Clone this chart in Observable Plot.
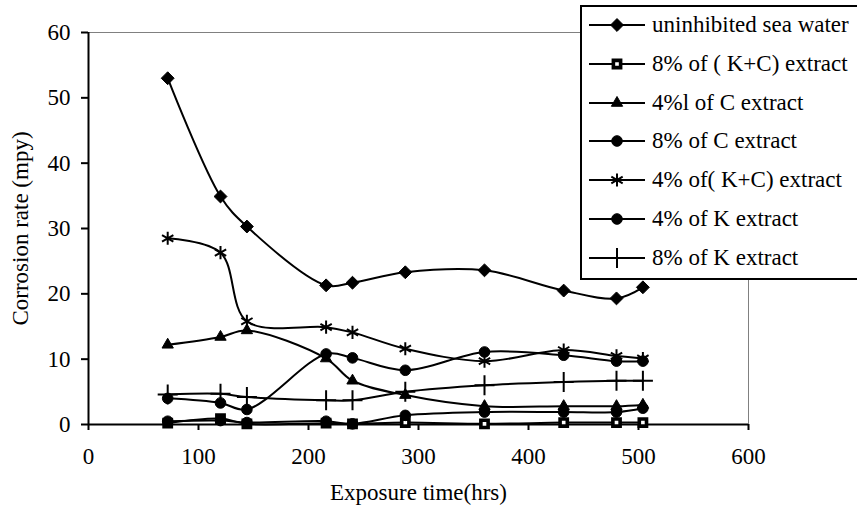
<!DOCTYPE html>
<html>
<head>
<meta charset="utf-8">
<script src="https://cdn.jsdelivr.net/npm/d3@7"></script>
<script src="https://cdn.jsdelivr.net/npm/@observablehq/plot@0.6"></script>
<style>
  html, body { margin: 0; padding: 0; background: #fff; overflow: hidden; }
  #wrap { position: relative; width: 857px; height: 517px; overflow: hidden; }
  #legend { position: absolute; left: 580px; top: 5px; width: 300px; height: 271px;
            border: 2px solid #000; background: #fff; font-family: "Liberation Serif", "Times New Roman", serif; }
  .row { position: absolute; left: 0; height: 30px; display: flex; align-items: center; }
  .row span { font-size: 23px; color: #000; white-space: nowrap; margin-left: 0px;
              font-family: "Liberation Serif", "Times New Roman", serif; }
</style>
</head>
<body>
<div id="wrap"><div id="chart"></div><div id="legend"></div></div>
<script>
const hours = [72, 120, 144, 216, 240, 288, 360, 432, 480, 504];
const seriesNames = [
  "uninhibited sea water",
  "8% of ( K+C) extract",
  "4%l of C extract",
  "8% of C extract",
  "4% of( K+C) extract",
  "4% of K extract",
  "8% of K extract"
];
const seaWater = [53.0, 34.9, 30.3, 21.3, 21.7, 23.3, 23.6, 20.5, 19.3, 21.0];
const kc8 = [0.2, 0.9, 0.1, 0.2, 0.1, 0.3, 0.1, 0.3, 0.3, 0.3];
const c4 = [12.2, 13.4, 14.4, 10.1, 6.7, 4.5, 2.8, 2.8, 2.8, 3.0];
const c8 = [4.0, 3.3, 2.3, 10.8, 10.2, 8.3, 11.1, 10.6, 9.7, 9.7];
const kc4 = [28.5, 26.3, 15.8, 14.9, 14.1, 11.6, 9.7, 11.4, 10.5, 10.1];
const k4 = [0.5, 0.6, 0.3, 0.5, 0.1, 1.4, 1.9, 1.9, 1.9, 2.5];
const k8 = [4.6, 4.7, 4.2, 3.7, 3.7, 5.0, 6.0, 6.5, 6.7, 6.7];
const xTicks = [0, 100, 200, 300, 400, 500, 600];
const yTicks = [0, 10, 20, 30, 40, 50, 60];

const seriesValues = [seaWater, kc8, c4, c8, kc4, k4, k8];
const symbols = ["diamond2", "square2", "triangle2", "circle", "asterisk", "circle", "plus"];
const styles = [
  {r: 5.8, fill: "#000", stroke: "#000", sw: 1},
  {r: 4.6, fill: "#fff", stroke: "#000", sw: 3.6},
  {r: 5.4, fill: "#000", stroke: "#000", sw: 1},
  {r: 5.3, fill: "#000", stroke: "#000", sw: 1},
  {r: 6.2, fill: "none", stroke: "#000", sw: 2},
  {r: 5.3, fill: "#000", stroke: "#000", sw: 1},
  {r: 6.5, fill: "none", stroke: "#000", sw: 2}
];

const rows = [];
seriesNames.forEach((name, i) => {
  hours.forEach((h, j) => rows.push({series: name, idx: i, hours: h, rate: seriesValues[i][j]}));
});

const font = "Liberation Serif, Times New Roman, serif";
const marks = [
  Plot.ruleY([60], {stroke: "#808080", strokeWidth: 1}),
  Plot.ruleX([600], {stroke: "#808080", strokeWidth: 1}),
  Plot.axisX({ticks: xTicks, tickSize: 6, tickPadding: 17, strokeWidth: 2,
    label: "Exposure time(hrs)", labelAnchor: "center", labelArrow: "none", labelOffset: 75}),
  Plot.axisY({ticks: yTicks, tickSize: 7, tickPadding: 11, strokeWidth: 2,
    label: "Corrosion rate (mpy)", labelAnchor: "center", labelArrow: "none", labelOffset: 77}),
  Plot.ruleY([0], {stroke: "#000", strokeWidth: 2}),
  Plot.ruleX([0], {stroke: "#000", strokeWidth: 2})
];
seriesNames.forEach((name, i) => {
  const d = rows.filter(r => r.idx === i);
  marks.push(Plot.line(d, {x: "hours", y: "rate", curve: "catmull-rom", stroke: "#000", strokeWidth: 2}));
});
seriesNames.forEach((name, i) => {
  const d = rows.filter(r => r.idx === i);
  const s = styles[i];
  marks.push(Plot.dot(d, {x: "hours", y: "rate", symbol: () => symbols[i], r: s.r,
    fill: s.fill, stroke: s.stroke, strokeWidth: s.sw}));
});

const chart = Plot.plot({
  width: 857, height: 517,
  marginLeft: 88, marginRight: 109, marginTop: 32, marginBottom: 93,
  style: {fontFamily: font, fontSize: "23px", color: "#000", background: "#fff"},
  x: {domain: [0, 600]},
  y: {domain: [0, 60]},
  marks
});
document.getElementById("chart").appendChild(chart);

// legend
const legend = document.getElementById("legend");
const typeMap = {diamond2: d3.symbolDiamond2, square2: d3.symbolSquare2, triangle2: d3.symbolTriangle2,
  circle: d3.symbolCircle, asterisk: d3.symbolAsterisk, plus: d3.symbolPlus};
seriesNames.forEach((name, i) => {
  const row = document.createElement("div");
  row.className = "row";
  row.style.top = (3 + i * 38.8) + "px";
  const svg = d3.create("svg").attr("width", 70).attr("height", 30);
  svg.append("line").attr("x1", 7).attr("x2", 63).attr("y1", 15).attr("y2", 15)
    .attr("stroke", "#000").attr("stroke-width", 2);
  const s = styles[i];
  svg.append("path").attr("transform", "translate(35,15)")
    .attr("d", d3.symbol(typeMap[symbols[i]], Math.PI * s.r * s.r)())
    .attr("fill", s.fill).attr("stroke", s.stroke).attr("stroke-width", s.sw);
  row.appendChild(svg.node());
  const sp = document.createElement("span");
  sp.textContent = name;
  row.appendChild(sp);
  legend.appendChild(row);
});
</script>
</body>
</html>
